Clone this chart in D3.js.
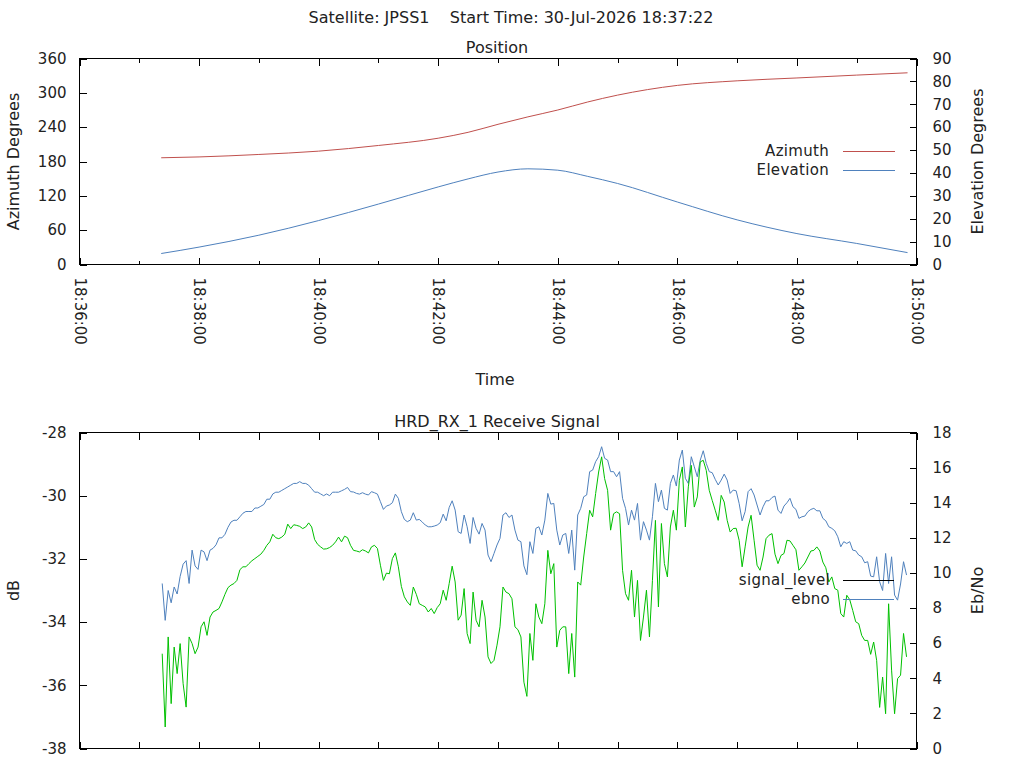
<!DOCTYPE html>
<html>
<head>
<meta charset="utf-8">
<script src="https://cdn.jsdelivr.net/npm/d3@7"></script>
<style>
  body { margin: 0; background: #fff; }
  svg { font-family: "DejaVu Sans", sans-serif; font-size: 16px; }
  .axis path.domain { display: none; }
  .axis line { stroke: #000; shape-rendering: crispEdges; }
  .axis text { fill: #222; font-size: 15px; font-family: "DejaVu Sans", sans-serif; }
  .frame { fill: none; stroke: #000; shape-rendering: crispEdges; }
  .series { fill: none; stroke-width: 1; }
  .label { fill: #222; }
  .key { fill: #222; font-size: 15px; }
</style>
</head>
<body>
<div id="chart"></div>
<script>
// ---- data -------------------------------------------------------------
const satellite = "JPSS1";
const startTime = "30-Jul-2026 18:37:22";

// position pass (top panel)
const posTimes = ["18:37:22","18:38:00","18:39:00","18:40:00","18:41:00","18:42:00","18:42:30",
  "18:43:00","18:43:30","18:44:00","18:44:30","18:45:00","18:46:00","18:47:00","18:48:00",
  "18:49:00","18:49:51"];
const azimuth = [186.5,188,192.3,198.1,208,220.7,231,245,258,270,284,296,313,321,326,331,335];
const elevation = [4.8,7.6,12.8,19.2,26.4,33.9,37.4,40.4,41.8,41.2,38.5,35.4,27.3,19.5,13.5,9.2,5.2];

// receive signal (bottom panel), one sample every 3 s from sigStart
const sigStart = "18:37:23";
const sigStep = 3;
const signalLevel = [
  -35.00,-37.32,-34.47,-36.58,-34.79,-35.63,-34.68,-35.95,-36.69,-34.47,
  -34.68,-35.00,-34.79,-34.15,-33.99,-34.42,-33.84,-33.68,-33.63,-33.57,
  -33.36,-33.12,-32.91,-32.83,-32.78,-32.68,-32.34,-32.25,-32.25,-32.15,
  -32.06,-31.99,-31.92,-31.85,-31.73,-31.57,-31.46,-31.22,-31.33,-31.36,
  -31.31,-31.22,-30.90,-31.04,-30.92,-30.94,-30.97,-31.04,-30.99,-30.86,
  -30.99,-31.39,-31.54,-31.62,-31.69,-31.68,-31.64,-31.57,-31.46,-31.31,
  -31.46,-31.28,-31.33,-31.57,-31.73,-31.75,-31.78,-31.71,-31.75,-31.81,
  -31.62,-31.57,-31.67,-32.20,-32.68,-32.45,-32.47,-31.99,-31.81,-32.25,
  -32.87,-33.20,-33.36,-33.47,-32.89,-33.12,-33.42,-33.47,-33.52,-33.68,
  -33.57,-33.73,-33.54,-33.42,-32.99,-33.31,-32.78,-32.23,-32.73,-33.94,
  -33.78,-32.94,-34.36,-34.68,-33.05,-33.94,-34.15,-33.31,-33.84,-35.10,
  -35.31,-35.21,-34.73,-34.15,-32.89,-33.05,-33.10,-33.26,-34.15,-34.24,
  -34.47,-35.90,-36.35,-34.36,-35.21,-33.42,-33.84,-34.05,-33.42,-31.73,
  -32.47,-32.15,-34.79,-34.26,-34.15,-34.15,-35.63,-34.36,-35.74,-32.73,
  -32.83,-31.94,-31.20,-30.46,-30.67,-29.93,-29.25,-28.77,-29.46,-29.83,
  -31.09,-30.57,-30.51,-30.57,-32.36,-33.10,-33.31,-32.36,-33.84,-32.68,
  -34.58,-33.84,-32.99,-34.47,-32.68,-30.78,-33.52,-30.88,-32.15,-32.57,
  -30.99,-30.46,-31.09,-29.51,-29.09,-30.99,-29.72,-29.04,-30.36,-30.04,
  -28.93,-28.88,-29.20,-29.83,-30.15,-30.46,-30.78,-29.99,-30.20,-30.78,
  -31.15,-31.04,-31.03,-31.41,-32.25,-31.62,-30.99,-30.62,-31.41,-32.20,
  -32.36,-31.94,-31.36,-31.25,-31.20,-31.85,-32.15,-31.89,-31.83,-31.41,
  -31.43,-31.57,-31.71,-32.36,-32.25,-32.13,-31.94,-31.75,-31.73,-31.62,
  -31.75,-32.10,-32.28,-32.73,-32.57,-32.94,-32.99,-33.73,-33.84,-33.15,
  -33.29,-33.63,-33.99,-34.05,-34.42,-34.58,-34.58,-35.02,-34.63,-35.21,
  -36.70,-35.74,-36.90,-33.42,-35.52,-36.90,-35.79,-35.68,-34.36,-35.10
];
const ebno = [
  9.4,7.3,9.0,8.3,9.2,8.8,9.8,10.5,10.7,9.4,
  11.3,10.4,10.2,11.3,11.2,10.7,11.3,11.4,11.6,12.0,
  12.0,12.2,12.6,12.9,13.0,13.0,13.2,13.4,13.5,13.5,
  13.5,13.7,13.7,13.8,13.9,14.2,14.2,14.5,14.6,14.6,
  14.7,14.8,14.9,15.0,15.1,15.1,15.2,15.1,15.1,15.0,
  14.8,14.6,14.6,14.5,14.4,14.5,14.4,14.6,14.6,14.6,
  14.68,14.76,14.87,14.63,14.61,14.53,14.49,14.57,14.49,14.44,
  14.63,14.57,14.49,14.06,13.62,13.81,13.87,14.00,14.49,14.25,
  13.49,13.05,12.92,13.01,13.43,13.01,13.05,12.90,12.73,12.63,
  12.63,12.67,12.73,12.86,13.35,12.97,13.73,14.11,13.58,12.35,
  12.25,13.30,12.63,11.68,13.16,12.54,12.21,12.82,12.44,11.02,
  10.64,11.11,11.59,11.97,13.30,13.43,13.16,13.30,12.44,11.87,
  11.78,10.40,9.90,11.78,11.11,12.54,12.63,12.16,13.01,14.53,
  13.92,13.96,12.44,11.59,12.16,12.25,11.11,12.44,10.16,13.30,
  13.68,14.34,14.44,15.77,15.86,16.34,16.62,17.19,16.53,16.43,
  15.77,15.77,15.48,15.77,14.25,13.68,12.73,13.58,13.01,13.96,
  11.87,12.92,12.44,11.87,13.20,15.10,14.06,14.72,13.68,13.58,
  15.10,15.58,14.95,16.43,17.00,15.39,15.10,16.62,16.05,15.48,
  16.43,16.96,16.24,15.77,15.71,15.33,15.01,15.29,15.63,15.29,
  14.53,14.72,14.68,13.96,12.97,13.49,14.63,14.80,14.44,13.87,
  13.30,13.77,14.11,14.11,14.30,14.38,13.58,13.39,13.81,14.00,
  14.25,13.77,13.62,13.11,13.20,13.24,13.49,13.62,13.68,13.54,
  13.54,13.11,12.97,12.63,12.54,12.40,12.06,11.49,11.78,11.68,
  11.78,11.30,11.26,11.02,10.92,10.58,10.64,9.82,9.78,10.92,
  9.50,9.00,11.11,9.40,10.92,8.74,8.45,9.37,10.64,9.88
];

const xTickLabels = ["18:36:00","18:38:00","18:40:00","18:42:00","18:44:00","18:46:00","18:48:00","18:50:00"];
const azTicks = [0, 60, 120, 180, 240, 300, 360];
const elTicks = [0, 10, 20, 30, 40, 50, 60, 70, 80, 90];
const dbTicks = [-38, -36, -34, -32, -30, -28];
const ebnoTicks = [0, 2, 4, 6, 8, 10, 12, 14, 16, 18];

const colAz = "#c0504d", colEl = "#4f81bd", colSig = "#00c000", colEbno = "#4f81bd";

// ---- setup ------------------------------------------------------------
const parseT = d3.timeParse("%H:%M:%S");
const fmtT = d3.timeFormat("%H:%M:%S");
const plain = d => String(d);   // keep the ascii hyphen for negatives

const svg = d3.select("#chart").append("svg")
  .attr("width", 1024)
  .attr("height", 768);

const left = 79.5, right = 916.5;
const x = d3.scaleTime()
  .domain([parseT("18:36:00"), parseT("18:50:00")])
  .range([left, right]);

const minutes = d3.timeMinute.range(parseT("18:36:00"), parseT("18:50:01"));

svg.append("text").attr("class", "label")
  .attr("x", 511).attr("y", 23).attr("text-anchor", "middle")
  .style("white-space", "pre")
  .text("Satellite: " + satellite + "    Start Time: " + startTime);

function panel(top, bottom, title, yDomL, yDomR, ticksL, ticksR, labelL, labelR) {
  const yL = d3.scaleLinear().domain(yDomL).range([bottom, top]);
  const yR = d3.scaleLinear().domain(yDomR).range([bottom, top]);

  svg.append("text").attr("class", "label")
    .attr("x", 497).attr("y", top - 6).attr("text-anchor", "middle")
    .text(title);

  svg.append("g").attr("class", "axis")
    .attr("transform", "translate(" + left + ",0)")
    .call(d3.axisLeft(yL).tickValues(ticksL).tickSize(-7).tickPadding(13).tickFormat(plain));

  svg.append("g").attr("class", "axis")
    .attr("transform", "translate(" + right + ",0)")
    .call(d3.axisRight(yR).tickValues(ticksR).tickSize(-7).tickPadding(16).tickFormat(plain));

  svg.append("text").attr("class", "label")
    .attr("transform", "translate(19," + ((top + bottom) / 2) + ") rotate(-90)")
    .attr("text-anchor", "middle")
    .text(labelL);

  svg.append("text").attr("class", "label")
    .attr("transform", "translate(983," + ((top + bottom) / 2) + ") rotate(-90)")
    .attr("text-anchor", "middle")
    .text(labelR);

  svg.append("rect").attr("class", "frame")
    .attr("x", left).attr("y", top)
    .attr("width", right - left).attr("height", bottom - top);

  return { yL, yR };
}

// ---- top panel: position ---------------------------------------------
const pTop = 58.5, pBot = 264.5;
const pos = panel(pTop, pBot, "Position", [0, 360], [0, 90], azTicks, elTicks,
  "Azimuth Degrees", "Elevation Degrees");

const majors = xTickLabels.map(parseT);
const minors = minutes.filter(m => m.getMinutes() % 2 === 1);

svg.append("g").attr("class", "axis")
  .attr("transform", "translate(0," + pBot + ")")
  .call(d3.axisBottom(x).tickValues(majors).tickSize(-7).tickFormat(fmtT))
  .selectAll("text")
    .attr("transform", "rotate(90)")
    .attr("x", 13).attr("y", 0).attr("dy", "0.35em")
    .attr("text-anchor", "start");
svg.append("g").attr("class", "axis")
  .attr("transform", "translate(0," + pBot + ")")
  .call(d3.axisBottom(x).tickValues(minors).tickSize(-4).tickFormat(""));
svg.append("g").attr("class", "axis")
  .attr("transform", "translate(0," + pTop + ")")
  .call(d3.axisTop(x).tickValues(majors).tickSize(-7).tickFormat(""));
svg.append("g").attr("class", "axis")
  .attr("transform", "translate(0," + pTop + ")")
  .call(d3.axisTop(x).tickValues(minors).tickSize(-4).tickFormat(""));

svg.append("text").attr("class", "label")
  .attr("x", 495).attr("y", 385).attr("text-anchor", "middle")
  .text("Time");

const posData = posTimes.map((t, i) => ({ t: parseT(t), az: azimuth[i], el: elevation[i] }));

svg.append("path").datum(posData)
  .attr("class", "series").attr("stroke", colAz)
  .attr("d", d3.line().curve(d3.curveMonotoneX).x(d => x(d.t)).y(d => pos.yL(d.az)));
svg.append("path").datum(posData)
  .attr("class", "series").attr("stroke", colEl)
  .attr("d", d3.line().curve(d3.curveMonotoneX).x(d => x(d.t)).y(d => pos.yR(d.el)));

// legend
const posKey = [["Azimuth", colAz, 151], ["Elevation", colEl, 170]];
posKey.forEach(k => {
  svg.append("text").attr("class", "key")
    .attr("x", 829).attr("y", k[2]).attr("dy", "0.35em").attr("text-anchor", "end")
    .style("letter-spacing", "0.3px")
    .text(k[0]);
  svg.append("line").attr("x1", 843).attr("x2", 895).attr("y1", k[2] + 0.5).attr("y2", k[2] + 0.5)
    .attr("stroke", k[1]).style("shape-rendering", "crispEdges");
});

// ---- bottom panel: receive signal ------------------------------------
const sTop = 432.5, sBot = 748.5;
const sig = panel(sTop, sBot, "HRD_RX_1 Receive Signal", [-38, -28], [0, 18], dbTicks, ebnoTicks,
  "dB", "Eb/No");

svg.append("g").attr("class", "axis")
  .attr("transform", "translate(0," + sBot + ")")
  .call(d3.axisBottom(x).tickValues(minutes).tickSize(-7).tickFormat(""));
svg.append("g").attr("class", "axis")
  .attr("transform", "translate(0," + sTop + ")")
  .call(d3.axisTop(x).tickValues(minutes).tickSize(-7).tickFormat(""));

const t0 = parseT(sigStart);
const sigData = signalLevel.map((v, i) => ({
  t: d3.timeSecond.offset(t0, i * sigStep), db: v, eb: ebno[i]
}));

svg.append("path").datum(sigData)
  .attr("class", "series").attr("stroke", colEbno)
  .attr("d", d3.line().x(d => x(d.t)).y(d => sig.yR(d.eb)));
svg.append("path").datum(sigData)
  .attr("class", "series").attr("stroke", colSig)
  .attr("d", d3.line().x(d => x(d.t)).y(d => sig.yL(d.db)));

const sigKey = [["signal_level", "#000", 580], ["ebno", colEbno, 599]];
sigKey.forEach(k => {
  svg.append("text").attr("class", "key")
    .attr("x", 830).attr("y", k[2]).attr("dy", "0.35em").attr("text-anchor", "end")
    .style("letter-spacing", "0.3px")
    .text(k[0]);
  svg.append("line").attr("x1", 843).attr("x2", 894).attr("y1", k[2] + 0.5).attr("y2", k[2] + 0.5)
    .attr("stroke", k[1]).style("shape-rendering", "crispEdges");
});
</script>
</body>
</html>
